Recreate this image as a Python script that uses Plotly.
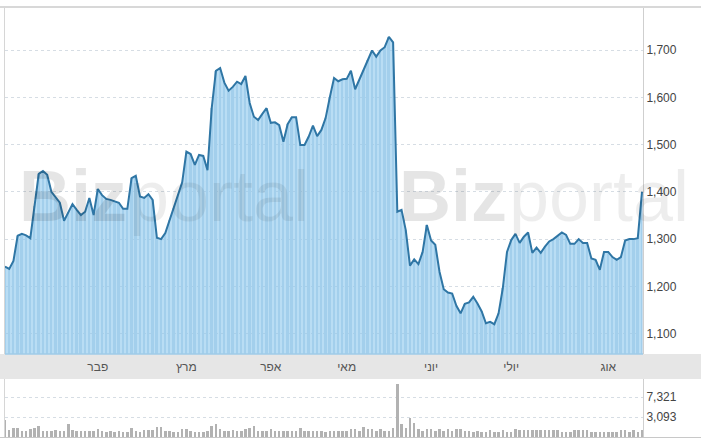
import plotly.graph_objects as go

# ---------------- data ----------------
PRICE = [
    1242, 1237, 1254, 1307, 1311, 1308, 1302, 1370, 1438, 1444,
    1436, 1400, 1388, 1377, 1339, 1357, 1374, 1362, 1351, 1358,
    1387, 1351, 1406, 1393, 1385, 1383, 1380, 1377, 1364, 1364,
    1429, 1434, 1390, 1387, 1395, 1383, 1303, 1300, 1313, 1340,
    1365, 1395, 1420, 1485, 1480, 1457, 1478, 1476, 1446, 1577,
    1656, 1662, 1631, 1614, 1622, 1633, 1628, 1645, 1588, 1559,
    1552, 1565, 1577, 1546, 1547, 1541, 1506, 1543, 1558, 1558,
    1499, 1499, 1517, 1540, 1518, 1531, 1556, 1600, 1641, 1634,
    1638, 1639, 1656, 1617, 1637, 1658, 1679, 1699, 1686, 1699,
    1706, 1728, 1716,
    1358, 1362, 1319, 1244, 1257, 1247, 1273, 1330, 1297, 1288,
    1231, 1194, 1187, 1185, 1159, 1143, 1163, 1166, 1178, 1164,
    1147, 1122, 1125, 1120, 1143, 1196, 1273, 1298, 1311, 1292,
    1305, 1314, 1271, 1282, 1271, 1284, 1295, 1300, 1307, 1314,
    1309, 1290, 1290, 1300, 1292, 1292, 1259, 1256, 1235, 1273,
    1273, 1262, 1256, 1262, 1297, 1300, 1300, 1302, 1400,
]

VOLUME = [
    2720, 1770, 1900, 1900, 1710, 1710, 1820, 1900, 2130, 1710,
    1710, 1710, 1770, 1710, 1710, 2260, 1770, 1710, 1710, 1710,
    1710, 1710, 1820, 1710, 1640, 1710, 1640, 1710, 1640, 1640,
    1900, 1710, 1640, 1770, 1770, 1770, 2040, 2040, 1710, 1710,
    1640, 1640, 1820, 1820, 1710, 1640, 1640, 1640, 1710, 2130,
    2260, 1820, 1710, 1710, 1770, 1710,
    1710, 1820, 1900, 2130, 1710, 1710, 1710, 1820, 1710, 1710,
    1710, 1710, 1710, 1710, 1950, 1710, 1710, 1710, 1710, 1710,
    1640, 1710, 1710, 1710, 1710, 1710, 1820, 1820, 1710, 2040,
    1820, 1820, 1710, 1820, 1710, 1710, 1900, 12840, 2280, 1900,
    3000, 2420, 1820, 1710, 1820, 1820, 1710, 1820, 1710, 1820,
    1710, 1820, 1820, 1710, 1710, 1640, 1710,
    1640, 1640, 1770, 1640, 1640, 1770, 1640, 1640, 1820, 1770,
    1770, 1770, 1770, 1770, 1770, 1770, 1770, 1770, 1770, 1640,
    1640, 1640, 1770, 1770, 1770, 1770, 1640, 1640, 1640, 1640,
    1640, 1640, 1640, 1770, 1770, 1640, 1770, 1640, 1770,
]

MONTH_TICK_IDX = [22, 43, 63, 81, 101, 120, 143]
MONTH_LABELS = ["פבר", "מרץ", "אפר", "מאי", "יוני", "יולי", "אוג"]
PRICE_TICKS = [1100, 1200, 1300, 1400, 1500, 1600, 1700]
VOLUME_TICKS = [3093, 7321]
VOLUME_TICK_TEXT = ["3,093", "7,321"]

# ---------------- layout helpers (pixels -> paper) ----------------
W, H = 701, 442


def py(p):
    return 1 - p / H


def px(p):
    return p / W


idx = list(range(len(PRICE)))
FONT = "Liberation Sans, Arial, sans-serif"

fig = go.Figure()

# vertical stripes under the area
fig.add_trace(go.Bar(
    x=idx, y=PRICE, width=0.45,
    marker=dict(color="rgb(200,220,236)", line=dict(width=0)),
    xaxis="x", yaxis="y", hoverinfo="skip", showlegend=False,
))
# price area + line
fig.add_trace(go.Scatter(
    x=idx, y=PRICE, mode="lines",
    line=dict(color="#2f76a5", width=2),
    fill="tozeroy", fillcolor="rgba(138,198,237,0.6)",
    xaxis="x", yaxis="y", showlegend=False,
))
# volume bars
fig.add_trace(go.Bar(
    x=idx, y=VOLUME, width=0.6,
    marker=dict(color="#b2b2b2", line=dict(width=0)),
    xaxis="x2", yaxis="y2", showlegend=False,
))

XDOM = [px(5), px(643)]
XRANGE = [0, len(PRICE) - 1 + 1 / 4.2185]
GRID = "#d6dde4"

fig.update_layout(
    width=W, height=H, autosize=False,
    margin=dict(l=0, r=0, t=0, b=0),
    paper_bgcolor="white", plot_bgcolor="rgba(0,0,0,0)",
    bargap=0, showlegend=False,
    font=dict(family=FONT, size=12, color="#444"),
    xaxis=dict(
        domain=XDOM, range=XRANGE, anchor="y",
        tickvals=MONTH_TICK_IDX, ticktext=MONTH_LABELS,
        showgrid=False, zeroline=False, ticks="", showline=False,
        tickfont=dict(size=12, color="#555"), ticklabelstandoff=4,
    ),
    yaxis=dict(
        domain=[py(354), py(7)], range=[1057, 1791], anchor="x",
        side="right", tickvals=PRICE_TICKS, tickformat=",d",
        showgrid=True, gridcolor=GRID, griddash="dot", gridwidth=1,
        zeroline=False, ticks="", showline=True, linecolor="#cfcfcf", linewidth=1,
        tickfont=dict(size=12, color="#444"), ticklabelstandoff=0,
    ),
    xaxis2=dict(
        domain=XDOM, range=XRANGE, anchor="y2",
        showticklabels=False, showgrid=False, zeroline=False, ticks="",
    ),
    yaxis2=dict(
        domain=[py(437), py(379)], type="log", range=[3.1159, 4.2021], anchor="x2",
        side="right", tickvals=VOLUME_TICKS, ticktext=VOLUME_TICK_TEXT,
        showgrid=True, gridcolor=GRID, griddash="dot", gridwidth=1,
        zeroline=False, ticks="", showline=True, linecolor="#cfcfcf", linewidth=1,
        tickfont=dict(size=12, color="#444"), ticklabelstandoff=0,
    ),
    shapes=[
        # gray band holding the month labels
        dict(type="rect", xref="paper", yref="paper", x0=0, x1=1,
             y0=py(379), y1=py(354), fillcolor="#e6e6e6", line=dict(width=0), layer="below"),
        # top border
        dict(type="line", xref="paper", yref="paper", x0=0, x1=1,
             y0=py(7), y1=py(7), line=dict(color="#d8d8d8", width=2)),
        # left borders
        dict(type="line", xref="paper", yref="paper", x0=px(4.5), x1=px(4.5),
             y0=py(354), y1=py(8), line=dict(color="#d6d6d6", width=1)),
        dict(type="line", xref="paper", yref="paper", x0=px(4.5), x1=px(4.5),
             y0=py(437), y1=py(379), line=dict(color="#d6d6d6", width=1)),
        # bottom border
        dict(type="line", xref="paper", yref="paper", x0=0, x1=1,
             y0=py(437.5), y1=py(437.5), line=dict(color="#c8c8c8", width=1)),
        # bottom edge of the price area
        dict(type="line", xref="paper", yref="paper", x0=XDOM[0], x1=XDOM[1],
             y0=py(354), y1=py(354), line=dict(color="#9fcbe8", width=1.5)),
    ],
)

# "Bizportal" watermark, twice
for xl in (17, 397):
    fig.add_annotation(
        text="<b>Biz</b>", xref="paper", yref="paper", x=px(xl), y=py(196),
        xanchor="left", yanchor="middle", showarrow=False,
        font=dict(family=FONT, size=72, color="rgba(0,0,0,0.1)"),
    )
    fig.add_annotation(
        text="portal", xref="paper", yref="paper", x=px(xl + 110), y=py(196),
        xanchor="left", yanchor="middle", showarrow=False,
        font=dict(family=FONT, size=72, color="rgba(0,0,0,0.07)", weight=300),
    )

fig.write_html(
    "out.html",
    config={"displayModeBar": False},
    post_script="document.body.style.margin='0';document.body.style.padding='0';",
)
